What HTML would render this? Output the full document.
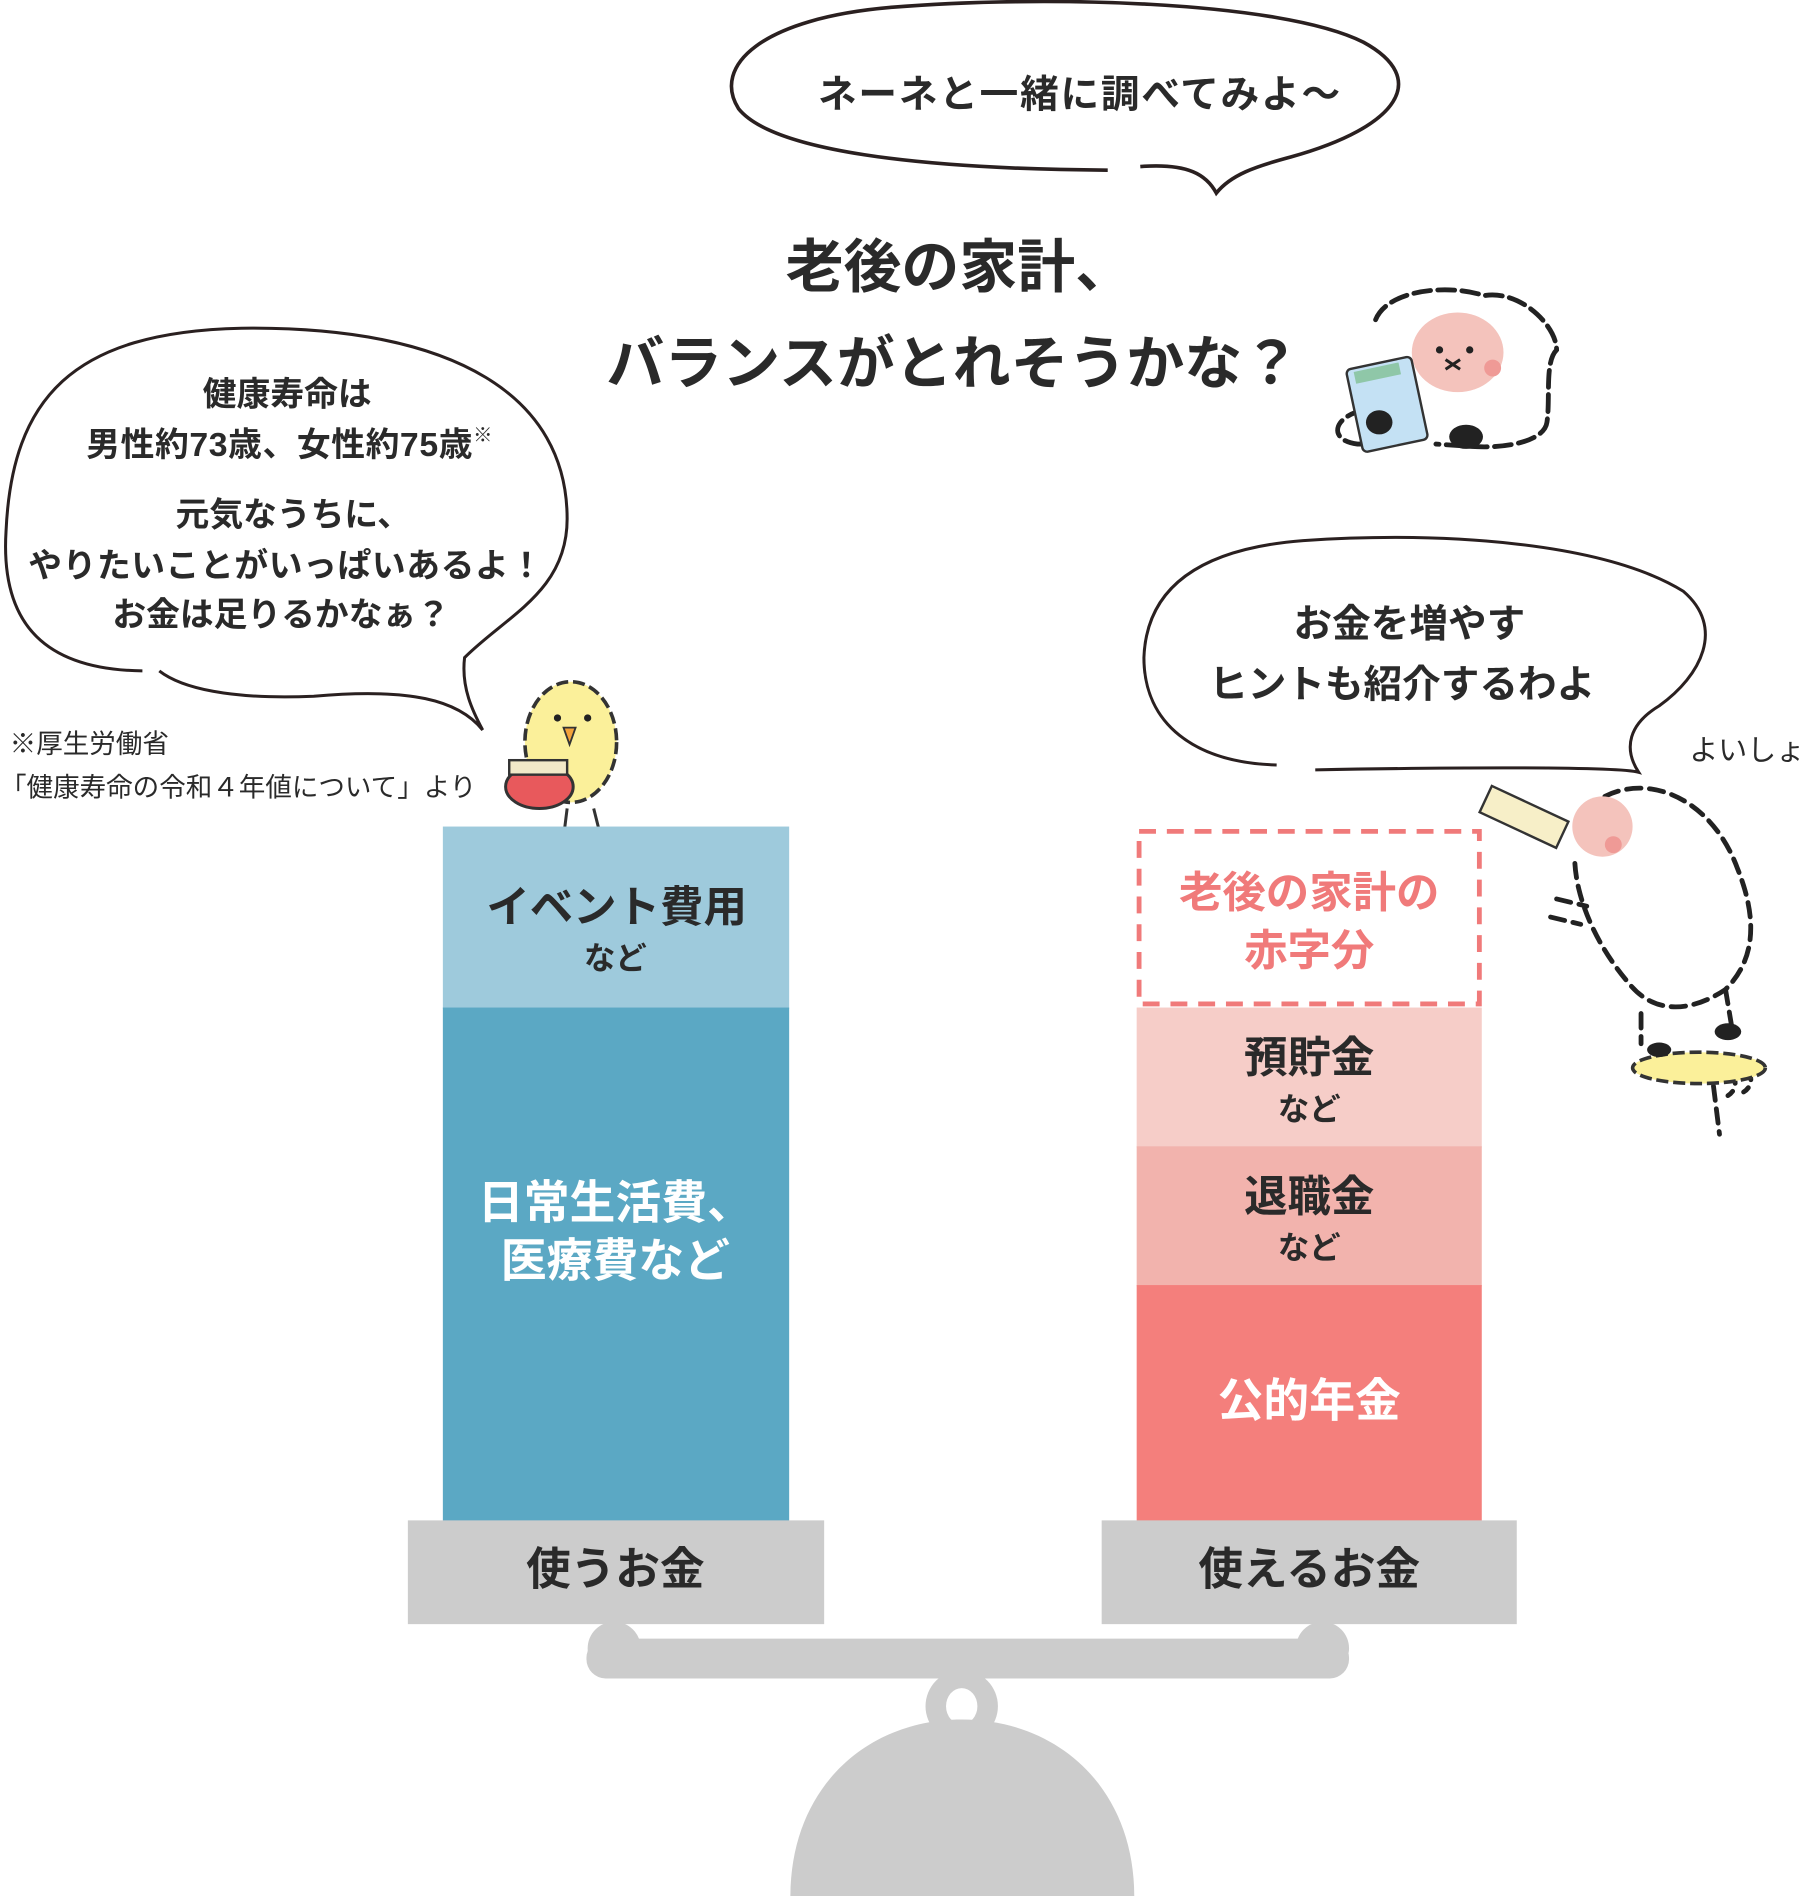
<!DOCTYPE html>
<html><head><meta charset="utf-8">
<style>
html,body{margin:0;padding:0;background:#fff;}
svg{display:block;}
text{font-family:"Liberation Sans","Noto Sans CJK JP",sans-serif;font-weight:700;fill:#2a2a2a;}
text.n{font-weight:400;}
</style></head>
<body>
<svg width="1810" height="1896" viewBox="0 0 1500 1571.3" xmlns="http://www.w3.org/2000/svg">
<!-- top bubble -->
<path d="M918,141 C760,140 640,125 612,90 C590,55 630,15 740,6 C860,-4 1060,0 1130,35 C1185,65 1160,105 1070,130 C1040,138 1020,145 1008,160 C1000,145 985,135 945,138" fill="none" stroke="#2a2020" stroke-width="3"/>
<text x="895" y="89" font-size="32" text-anchor="middle" letter-spacing="1.5">ネーネと一緒に調べてみよ〜</text>

<text x="795" y="238" font-size="48" text-anchor="middle">老後の家計、</text>
<text x="790" y="318" font-size="48" text-anchor="middle">バランスがとれそうかな？</text>

<!-- left bubble -->
<path d="M118,556 C40,555 0,520 5,440 C10,330 60,275 200,272 C380,270 470,330 470,430 C470,490 420,510 385,545 C382,570 392,590 400,605 C380,580 340,570 260,577 C190,580 150,570 132,556" fill="none" stroke="#2a2020" stroke-width="2.5"/>
<text x="238" y="336" font-size="28" text-anchor="middle">健康寿命は</text>
<text x="240" y="378" font-size="28" text-anchor="middle" letter-spacing="0.5">男性約73歳、女性約75歳<tspan font-size="16" dy="-12">※</tspan></text>
<text x="243" y="436" font-size="28" text-anchor="middle">元気なうちに、</text>
<text x="237" y="478" font-size="28" text-anchor="middle" letter-spacing="0.5">やりたいことがいっぱいあるよ！</text>
<text x="233" y="519" font-size="28" text-anchor="middle">お金は足りるかなぁ？</text>
<text class="n" x="8" y="624" font-size="22">※厚生労働省</text>
<text class="n" x="0" y="660" font-size="22">「健康寿命の令和４年値について」より</text>

<!-- right bubble -->
<path d="M1058,634 C990,632 948,600 948,545 C950,490 990,455 1080,448 C1200,440 1330,450 1395,490 C1430,520 1410,560 1375,585 C1350,600 1345,620 1358,640 C1340,635 1200,636 1090,638" fill="none" stroke="#2a2020" stroke-width="2.5"/>
<text x="1168" y="528" font-size="32" text-anchor="middle">お金を増やす</text>
<text x="1162" y="578" font-size="32" text-anchor="middle">ヒントも紹介するわよ</text>
<text class="n" x="1400" y="630" font-size="24">よいしょ</text>

<!-- sheep top -->
<g stroke="#222" stroke-width="4" fill="none" stroke-dasharray="14 6" stroke-linecap="round">
<path d="M1140,265 C1150,240 1200,235 1230,245 C1260,240 1290,270 1290,290 C1280,300 1285,330 1282,350 C1280,365 1250,372 1220,370 L1190,368"/>
<path d="M1130,340 C1105,345 1100,365 1125,368 L1150,368"/>
</g>
<ellipse cx="1208" cy="292" rx="38" ry="33" fill="#f4c3bc"/>
<circle cx="1237" cy="305" r="7" fill="#ef9a96"/>
<circle cx="1193" cy="290" r="3" fill="#222"/><circle cx="1218" cy="290" r="3" fill="#222"/>
<path d="M1198,298 l12,8 M1210,298 l-12,8" stroke="#222" stroke-width="2.5"/>
<rect x="1122" y="300" width="55" height="70" rx="4" transform="rotate(-12 1150 335)" fill="#c4e1f4" stroke="#333" stroke-width="2"/>
<rect x="1128" y="303" width="38" height="10" transform="rotate(-12 1150 335)" fill="#8fc7a8"/>
<ellipse cx="1143" cy="350" rx="11" ry="10" fill="#222"/>
<ellipse cx="1215" cy="362" rx="14" ry="10" fill="#222"/>

<!-- chick -->
<ellipse cx="473" cy="615" rx="38" ry="50" fill="#fbf09a" stroke="#333" stroke-width="3" stroke-dasharray="10 4"/>
<circle cx="462" cy="595" r="3" fill="#222"/><circle cx="487" cy="595" r="3" fill="#222"/>
<path d="M467,603 l10,0 l-5,14 z" fill="#f3a23a" stroke="#333" stroke-width="1.5"/>
<ellipse cx="447" cy="652" rx="28" ry="18" fill="#e8595c" stroke="#333" stroke-width="2.5"/>
<rect x="422" y="630" width="48" height="12" fill="#f2e9c8" stroke="#333" stroke-width="2"/>
<path d="M470,670 l-2,16 M492,670 l4,16" stroke="#333" stroke-width="2.5"/>

<!-- left column -->
<rect x="367" y="685" width="287" height="151" fill="#9ecadc"/>
<rect x="367" y="835" width="287" height="426" fill="#5ba8c4"/>
<text x="511" y="764" font-size="36" text-anchor="middle">イベント費用</text>
<text x="510" y="803" font-size="26" text-anchor="middle">など</text>
<text x="510" y="1010" font-size="38" text-anchor="middle" style="fill:#fff">日常生活費、</text>
<text x="510" y="1058" font-size="38" text-anchor="middle" style="fill:#fff">医療費など</text>
<rect x="338" y="1260" width="345" height="86" fill="#cccccc"/>
<text x="510" y="1313" font-size="37" text-anchor="middle">使うお金</text>

<!-- right column -->
<rect x="944" y="689" width="282" height="143" fill="none" stroke="#f07a7a" stroke-width="4" stroke-dasharray="14 9"/>
<text x="1085" y="752" font-size="36" text-anchor="middle" style="fill:#f07a7a">老後の家計の</text>
<text x="1085" y="800" font-size="36" text-anchor="middle" style="fill:#f07a7a">赤字分</text>
<rect x="942" y="835" width="286" height="116" fill="#f6cdc8"/>
<rect x="942" y="950" width="286" height="116" fill="#f2b3ad"/>
<rect x="942" y="1065" width="286" height="196" fill="#f47f7c"/>
<text x="1085" y="889" font-size="36" text-anchor="middle">預貯金</text>
<text x="1085" y="928" font-size="26" text-anchor="middle">など</text>
<text x="1085" y="1004" font-size="36" text-anchor="middle">退職金</text>
<text x="1085" y="1043" font-size="26" text-anchor="middle">など</text>
<text x="1085" y="1174" font-size="38" text-anchor="middle" style="fill:#fff">公的年金</text>
<rect x="913" y="1260" width="344" height="86" fill="#cccccc"/>
<text x="1085" y="1313" font-size="37" text-anchor="middle">使えるお金</text>

<!-- sheep right -->
<g stroke="#222" stroke-width="4" fill="none" stroke-dasharray="12 7" stroke-linecap="round">
<path d="M1330,660 C1370,640 1420,665 1440,720 C1460,770 1450,800 1430,820 C1400,840 1370,840 1350,815 C1320,780 1305,740 1305,710"/>
<path d="M1360,840 l0,25 M1430,820 l5,30"/>
<path d="M1290,745 l25,6 M1285,760 l25,6"/>
<path d="M1420,900 l5,40 M1432,888 c8,5 8,15 0,20 M1445,885 c8,5 8,15 0,20"/>
</g>
<ellipse cx="1328" cy="685" rx="25" ry="25" fill="#f4c3bc"/>
<circle cx="1337" cy="700" r="7" fill="#ef9a96"/>
<rect x="1228" y="665" width="70" height="24" transform="rotate(25 1263 677)" fill="#f7efc8" stroke="#333" stroke-width="2"/>
<ellipse cx="1408" cy="885" rx="55" ry="13" fill="#fbf09a" stroke="#333" stroke-width="3" stroke-dasharray="10 4"/>
<ellipse cx="1375" cy="870" rx="10" ry="6" fill="#222"/>
<ellipse cx="1432" cy="855" rx="11" ry="7" fill="#222"/>

<!-- balance -->
<rect x="486" y="1358" width="632" height="33" rx="16" fill="#cccccc"/>
<circle cx="509" cy="1366" r="22" fill="#cccccc"/>
<circle cx="1096" cy="1366" r="22" fill="#cccccc"/>
<circle cx="797" cy="1414" r="30" fill="#cccccc"/>
<ellipse cx="797" cy="1414" rx="13" ry="15" fill="#fff"/>
<path d="M655,1572 C655,1480 720,1425 797,1425 C875,1425 940,1480 940,1572 Z" fill="#cccccc"/>
</svg>
</body></html>
